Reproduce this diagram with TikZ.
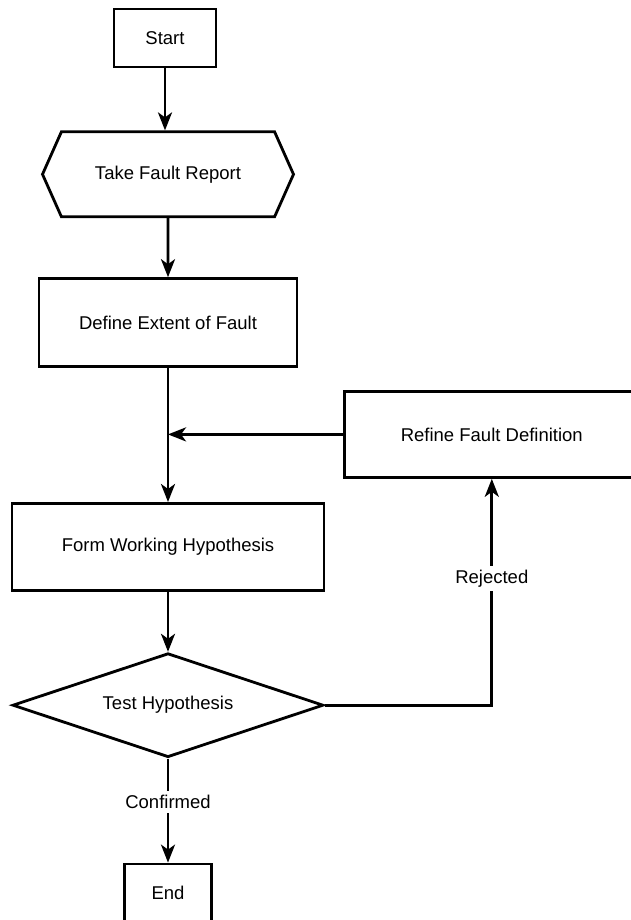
\documentclass[tikz,border=0pt]{standalone}
\usepackage{fontspec}
\setmainfont{Liberation Sans}
\usepackage{tikz}
\usetikzlibrary{arrows.meta, positioning, shapes.geometric, shapes.symbols}

\begin{document}
\begin{tikzpicture}[x=1pt, y=-1pt, node distance=60pt,
    every node/.style={font=\fontsize{18.5}{22}\selectfont},
    box/.style={draw, line width=2.8pt, rectangle, align=center, inner sep=0pt},
    hexa/.style={draw, line width=2.8pt, signal, signal to=east and west, signal pointer angle=132, inner sep=0pt},
    decision/.style={draw, line width=2.8pt, diamond, aspect=3, inner sep=0pt},
    arr/.style={-{Stealth[length=18pt, width=14pt, inset=5pt]}, line width=2.8pt},
    lbl/.style={fill=white, inner sep=4pt}]
        \useasboundingbox[fill=white] (0,0) rectangle (630,920);

        % Start
        \node[box, minimum width=102pt, minimum height=58pt] (start) at (165,38) {Start};

        % Take Fault Report
        \node[hexa, below=62pt of start, xshift=3pt, minimum width=251pt, minimum height=85pt] (report) {Take Fault Report};

        % Define Extent of Fault
        \node[box, below=59pt of report, minimum width=258pt, minimum height=88pt] (define) {Define Extent of Fault};

        % Refine Fault Definition
        \node[box, below right=22pt and 45pt of define, minimum width=294pt, minimum height=86pt] (refine) {Refine Fault Definition};

        % Form Working Hypothesis
        \node[box, below=134pt of define, minimum width=312pt, minimum height=87pt] (form) {Form Working Hypothesis};

        % Test Hypothesis
        \node[decision, below=60pt of form, minimum width=311pt, minimum height=104pt] (test) {Test Hypothesis};

        % End
        \node[box, below=104pt of test, minimum width=87pt, minimum height=58pt] (end) {End};

        % Flow
        \draw[arr] (start) -- (start |- report.north);
        \draw[arr] (report) -- (define);
        \draw[arr] (define) -- (form);
        \draw[arr] (refine.west) -- (refine.west -| define.south);
        \draw[arr] (form) -- (test);
        \draw[arr] (test.east) -| node[lbl, pos=0.78] {Rejected} (refine.south);
        \draw[arr] (test) -- node[lbl, pos=0.42] {Confirmed} (end);
    \end{tikzpicture}
\end{document}
